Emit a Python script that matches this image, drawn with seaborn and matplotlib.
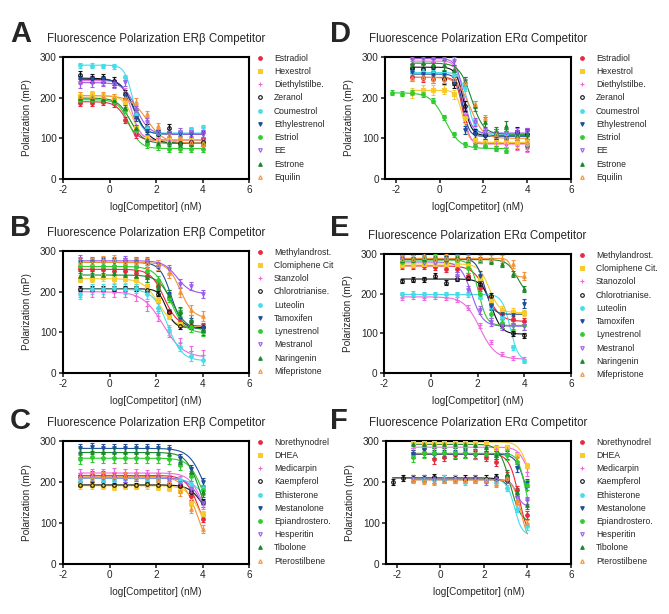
import numpy as np
import pandas as pd
import matplotlib
matplotlib.use("Agg")
import matplotlib.pyplot as plt
import seaborn as sns
from matplotlib.lines import Line2D

# -------- data --------

# log[Competitor] (nM), 3-fold dilutions
conc_std = [-1.25, -0.77, -0.29, 0.18, 0.66, 1.14, 1.61, 2.09, 2.57, 3.05, 3.52, 4.0]
conc_low = [-2.2, -1.73, -1.25, -0.77, -0.29, 0.18, 0.66, 1.14, 1.61, 2.09, 2.57, 3.05]

# Panel A - ERb
A_names = ["Estradiol", "Hexestrol", "Diethylstilbe.", "Zeranol", "Coumestrol",
           "Ethylestrenol", "Estriol", "EE", "Estrone", "Equilin"]
A_y = [
    [188, 188, 190, 186, 145, 110, 97, 98, 95, 95, 95, 95],
    [205, 208, 204, 200, 190, 125, 100, 98, 96, 95, 95, 92],
    [242, 245, 240, 235, 215, 115, 98, 100, 95, 95, 95, 95],
    [255, 248, 248, 242, 210, 160, 125, 110, 125, 88, 90, 90],
    [280, 279, 278, 277, 250, 160, 125, 112, 112, 112, 123, 127],
    [245, 245, 245, 235, 205, 150, 118, 112, 110, 110, 110, 110],
    [195, 195, 195, 190, 170, 120, 85, 80, 75, 75, 75, 75],
    [235, 236, 238, 233, 238, 170, 140, 112, 112, 115, 115, 110],
    [198, 200, 197, 195, 175, 125, 95, 88, 90, 88, 88, 88],
    [205, 205, 205, 202, 200, 190, 160, 130, 108, 100, 92, 88],
]
A_err = [8, 8, 9, 10, 6, 8, 8, 10, 8, 8]
A_top = [190, 205, 242, 248, 280, 245, 195, 237, 199, 205]
A_bottom = [95, 95, 96, 88, 113, 110, 75, 110, 88, 88]
A_logic50 = [0.75, 1.0, 0.95, 1.1, 1.0, 1.0, 0.85, 1.15, 0.9, 1.6]
A_hill = [1.8, 2.0, 2.2, 1.4, 2.5, 1.8, 1.8, 1.6, 1.6, 1.2]
A_low = []

# Panel D - ERa
D_names = A_names
D_y = [
    [250, 248, 245, 245, 240, 150, 90, 88, 90, 88, 85, 80],
    [212, 218, 218, 220, 208, 150, 95, 92, 90, 90, 88, 92],
    [290, 290, 288, 285, 270, 160, 88, 88, 88, 85, 80, 75],
    [272, 270, 275, 245, 235, 180, 112, 108, 110, 110, 115, 110],
    [262, 262, 260, 258, 255, 225, 140, 115, 110, 110, 105, 85],
    [262, 258, 255, 255, 240, 120, 110, 108, 105, 100, 110, 115],
    [212, 210, 212, 208, 192, 152, 110, 85, 80, 82, 74, 70],
    [296, 296, 295, 295, 290, 240, 140, 115, 112, 112, 115, 115],
    [282, 285, 282, 280, 268, 240, 180, 140, 115, 130, 108, 110],
    [248, 250, 245, 245, 245, 235, 185, 150, 110, 100, 100, 90],
]
D_err = [10, 12, 8, 12, 8, 10, 6, 10, 12, 8]
D_top = [250, 218, 290, 275, 262, 258, 212, 296, 285, 250]
D_bottom = [88, 90, 86, 107, 108, 105, 75, 113, 110, 100]
D_logic50 = [1.05, 1.05, 1.05, 1.1, 1.3, 1.05, 0.25, 1.1, 1.45, 1.4]
D_hill = [3.0, 3.0, 3.0, 2.5, 2.5, 3.0, 1.3, 2.5, 1.6, 1.5]
D_low = [6]

# Panel B - ERb
B_names = ["Methylandrost.", "Clomiphene Cit", "Stanzolol", "Chlorotrianise.", "Luteolin",
           "Tamoxifen", "Lynestrenol", "Mestranol", "Naringenin", "Mifepristone"]
B_y = [
    [255, 255, 255, 250, 250, 245, 238, 215, 150, 125, 118, 115],
    [232, 232, 235, 230, 230, 228, 215, 180, 140, 120, 115, 112],
    [200, 200, 200, 200, 198, 190, 165, 140, 100, 75, 55, 45],
    [207, 207, 207, 207, 208, 208, 205, 195, 150, 115, 115, 112],
    [195, 207, 207, 208, 207, 208, 195, 160, 105, 65, 42, 32],
    [272, 272, 272, 272, 272, 272, 270, 260, 195, 145, 125, 110],
    [262, 262, 262, 262, 262, 260, 250, 228, 185, 150, 112, 100],
    [280, 275, 275, 275, 278, 275, 275, 268, 255, 220, 215, 195],
    [238, 240, 242, 245, 240, 238, 235, 215, 192, 150, 130, 105],
    [270, 270, 275, 278, 272, 270, 270, 265, 245, 200, 155, 140],
]
B_err = [8, 8, 12, 6, 12, 10, 10, 10, 12, 12]
B_top = [255, 232, 200, 207, 206, 272, 262, 276, 241, 272]
B_bottom = [115, 112, 38, 112, 30, 108, 98, 195, 106, 135]
B_logic50 = [2.35, 2.1, 2.3, 2.45, 2.5, 2.65, 2.6, 2.9, 2.7, 3.05]
B_hill = [1.5, 1.3, 1.0, 2.5, 1.4, 1.8, 1.4, 1.5, 1.4, 1.6]
B_low = []

# Panel E - ERa
E_names = ["Methylandrost.", "Clomiphene Cit.", "Stanozolol", "Chlorotrianise.", "Luteolin",
           "Tamoxifen", "Lynestrenol", "Mestranol", "Naringenin", "Mifepristone"]
E_y = [
    [270, 270, 270, 268, 262, 262, 245, 215, 175, 150, 135, 130],
    [272, 272, 275, 275, 275, 275, 270, 240, 185, 160, 155, 152],
    [190, 192, 190, 192, 190, 185, 165, 120, 78, 48, 38, 35],
    [232, 235, 236, 245, 228, 238, 240, 225, 195, 120, 100, 95],
    [198, 200, 198, 198, 198, 198, 198, 192, 170, 140, 65, 30],
    [285, 285, 288, 288, 290, 288, 288, 245, 170, 148, 145, 175],
    [280, 285, 285, 288, 285, 285, 265, 200, 150, 125, 120, 120],
    [285, 282, 278, 278, 280, 245, 210, 160, 128, 118, 120, 118],
    [285, 285, 288, 288, 288, 288, 285, 285, 282, 275, 250, 212],
    [288, 288, 292, 288, 290, 288, 288, 288, 288, 288, 275, 245],
]
E_err = [8, 8, 6, 6, 6, 12, 12, 10, 8, 10]
E_top = [270, 275, 192, 237, 198, 288, 285, 280, 286, 289]
E_bottom = [130, 152, 35, 98, 30, 148, 120, 118, 195, 242]
E_logic50 = [2.4, 2.5, 2.1, 2.6, 3.4, 2.3, 2.05, 1.75, 3.7, 3.45]
E_hill = [1.5, 2.0, 1.3, 2.0, 2.5, 2.5, 2.5, 1.8, 2.0, 5.0]
E_low = []

# Panel C - ERb
C_names = ["Norethynodrel", "DHEA", "Medicarpin", "Kaempferol", "Ethisterone",
           "Mestanolone", "Epiandrostero.", "Hesperitin", "Tibolone", "Pterostilbene"]
C_y = [
    [215, 218, 218, 215, 215, 215, 215, 213, 210, 190, 165, 110],
    [192, 192, 190, 188, 190, 190, 192, 188, 185, 180, 150, 122],
    [222, 222, 222, 225, 222, 222, 220, 222, 218, 205, 185, 145],
    [193, 193, 193, 192, 193, 192, 195, 193, 192, 190, 175, 152],
    [208, 210, 208, 208, 208, 210, 208, 208, 208, 205, 195, 185],
    [282, 285, 282, 282, 282, 282, 282, 282, 280, 258, 232, 200],
    [255, 260, 258, 258, 258, 258, 258, 258, 255, 242, 215, 180],
    [210, 210, 210, 210, 208, 210, 210, 210, 205, 198, 182, 148],
    [272, 272, 272, 272, 272, 272, 272, 270, 268, 250, 225, 175],
    [213, 215, 215, 215, 215, 215, 212, 210, 200, 177, 135, 85],
]
C_err = [8, 8, 10, 6, 8, 10, 12, 8, 12, 10]
C_top = [216, 191, 222, 193, 209, 282, 258, 210, 272, 214]
C_bottom = [40, 60, 80, 100, 150, 100, 100, 80, 80, 0]
C_logic50 = [3.9, 3.9, 4.0, 4.0, 3.9, 4.1, 4.0, 4.0, 3.9, 3.85]
C_hill = [1.5, 1.5, 1.5, 1.5, 1.5, 1.3, 1.5, 1.5, 1.5, 1.3]
C_low = []

# Panel F - ERa
F_names = C_names
F_y = [
    [268, 270, 255, 262, 265, 270, 268, 262, 250, 215, 180, 120],
    [295, 296, 298, 298, 298, 297, 296, 298, 282, 285, 265, 240],
    [282, 285, 285, 285, 285, 285, 285, 285, 280, 280, 262, 225],
    [200, 210, 210, 210, 212, 208, 210, 208, 210, 208, 212, 205],
    [208, 208, 205, 208, 208, 200, 205, 205, 200, 185, 135, 92],
    [268, 278, 268, 268, 268, 268, 265, 265, 265, 265, 235, 198],
    [262, 270, 270, 270, 270, 270, 268, 268, 268, 265, 250, 192],
    [208, 208, 205, 205, 205, 205, 208, 200, 205, 205, 160, 155],
    [292, 292, 292, 292, 292, 292, 290, 285, 265, 220, 175, 145],
    [205, 202, 200, 205, 205, 205, 205, 205, 195, 210, 155, 100],
]
F_err = [10, 6, 10, 8, 8, 10, 12, 8, 10, 8]
F_top = [268, 298, 285, 210, 206, 268, 270, 206, 292, 205]
F_bottom = [60, 180, 180, 100, 70, 120, 100, 140, 100, 50]
F_logic50 = [3.6, 4.0, 4.0, 3.4, 3.4, 3.9, 3.9, 3.5, 3.2, 3.7]
F_hill = [2.0, 2.0, 2.0, 2.0, 2.5, 2.0, 2.5, 3.0, 1.8, 2.5]
F_low = [3]

# -------- styles --------

series_colors = ["#E8283C", "#F5CB2E", "#EE6ADF", "#111111", "#45DDEA",
                 "#1F4E9C", "#2ECC2E", "#9A5CEB", "#1B8A2A", "#F2923A"]
series_markers = ["o", "s", "+", "o", "o", "v", "o", "v", "^", "^"]
series_open = [False, False, False, True, False, False, False, True, False, True]

sns.set_style("ticks")
plt.rcParams['font.family'] = ['Liberation Sans', 'DejaVu Sans']
plt.rcParams['axes.unicode_minus'] = False


def four_pl(x, top, bottom, logic50, hill):
    return bottom + (top - bottom) / (1 + 10 ** ((x - logic50) * hill))


def draw_panel(ax, names, ys, errs, tops, bottoms, ic50s, hills, low, title, xmin):
    # fitted curves
    parts = []
    for i, name in enumerate(names):
        xs = conc_low if i in low else conc_std
        xf = np.linspace(xs[0], xs[-1], 200)
        yf = four_pl(xf, tops[i], bottoms[i], ic50s[i], hills[i])
        parts.append(pd.DataFrame({"x": xf, "y": yf, "compound": name}))
    fit = pd.concat(parts, ignore_index=True)
    sns.lineplot(data=fit, x="x", y="y", hue="compound", hue_order=names,
                 palette=dict(zip(names, series_colors)), estimator=None,
                 linewidth=0.8, legend=False, ax=ax, zorder=2)

    # measured points with SEM
    handles = []
    for i, name in enumerate(names):
        xs = conc_low if i in low else conc_std
        c = series_colors[i]
        mfc = "none" if series_open[i] else c
        ax.errorbar(xs, ys[i], yerr=errs[i], fmt=series_markers[i], color=c,
                    mfc=mfc, mec=c, ms=2.6, mew=0.8, elinewidth=0.9,
                    capsize=1.6, capthick=0.9, zorder=3)
        handles.append(Line2D([], [], marker=series_markers[i], color=c, mfc=mfc,
                              mec=c, ms=2.6, mew=0.8, linestyle="none", label=name))

    ax.set_xlim(xmin, 6)
    ax.set_ylim(0, 300)
    ax.set_xticks([-2, 0, 2, 4, 6])
    ax.set_yticks([0, 100, 200, 300])
    ax.set_xlabel("log[Competitor] (nM)", fontsize=7.2, labelpad=5)
    ax.set_ylabel("Polarization (mP)", fontsize=7.2, labelpad=6)
    ax.set_title(title, fontsize=8.3, pad=11)
    ax.tick_params(direction="out", length=3, width=1.2, labelsize=7.2, pad=1.5)
    for s in ax.spines.values():
        s.set_linewidth(1.5)
        s.set_color("black")

    ax.legend(handles=handles, loc="upper left", bbox_to_anchor=(1.0, 1.09),
              frameon=False, fontsize=6.2, handlelength=0.8, handletextpad=1.2,
              labelspacing=0.49, borderaxespad=0.5)


fig = plt.figure(figsize=(6.69, 6.14), dpi=100)
W, H = 669.0, 614.0

# pixel boxes: left, top, right, bottom
boxes = {
    "A": (63, 57, 249, 179),
    "D": (385, 57, 571, 179),
    "B": (63, 251, 249, 373),
    "E": (384, 254, 571, 373),
    "C": (63, 441, 249, 564),
    "F": (386, 441, 571, 564),
}

title_b = "Fluorescence Polarization ER\u03b2 Competitor"
title_a = "Fluorescence Polarization ER\u03b1 Competitor"

panels = [
    ("A", A_names, A_y, A_err, A_top, A_bottom, A_logic50, A_hill, A_low, title_b, -2),
    ("D", D_names, D_y, D_err, D_top, D_bottom, D_logic50, D_hill, D_low, title_a, -2.5),
    ("B", B_names, B_y, B_err, B_top, B_bottom, B_logic50, B_hill, B_low, title_b, -2),
    ("E", E_names, E_y, E_err, E_top, E_bottom, E_logic50, E_hill, E_low, title_a, -2),
    ("C", C_names, C_y, C_err, C_top, C_bottom, C_logic50, C_hill, C_low, title_b, -2),
    ("F", F_names, F_y, F_err, F_top, F_bottom, F_logic50, F_hill, F_low, title_a, -2.5),
]

letter_pos = {"A": (10, 42), "D": (330, 42), "B": (10, 236), "E": (330, 236),
              "C": (10, 429), "F": (330, 429)}

for p in panels:
    key = p[0]
    l, t, r, b = boxes[key]
    ax = fig.add_axes([l / W, 1 - b / H, (r - l) / W, (b - t) / H])
    draw_panel(ax, *p[1:])
    lx, ly = letter_pos[key]
    fig.text(lx / W, 1 - ly / H, key, fontsize=21, fontweight="bold", va="baseline")

fig.savefig("out.png", dpi=100)
